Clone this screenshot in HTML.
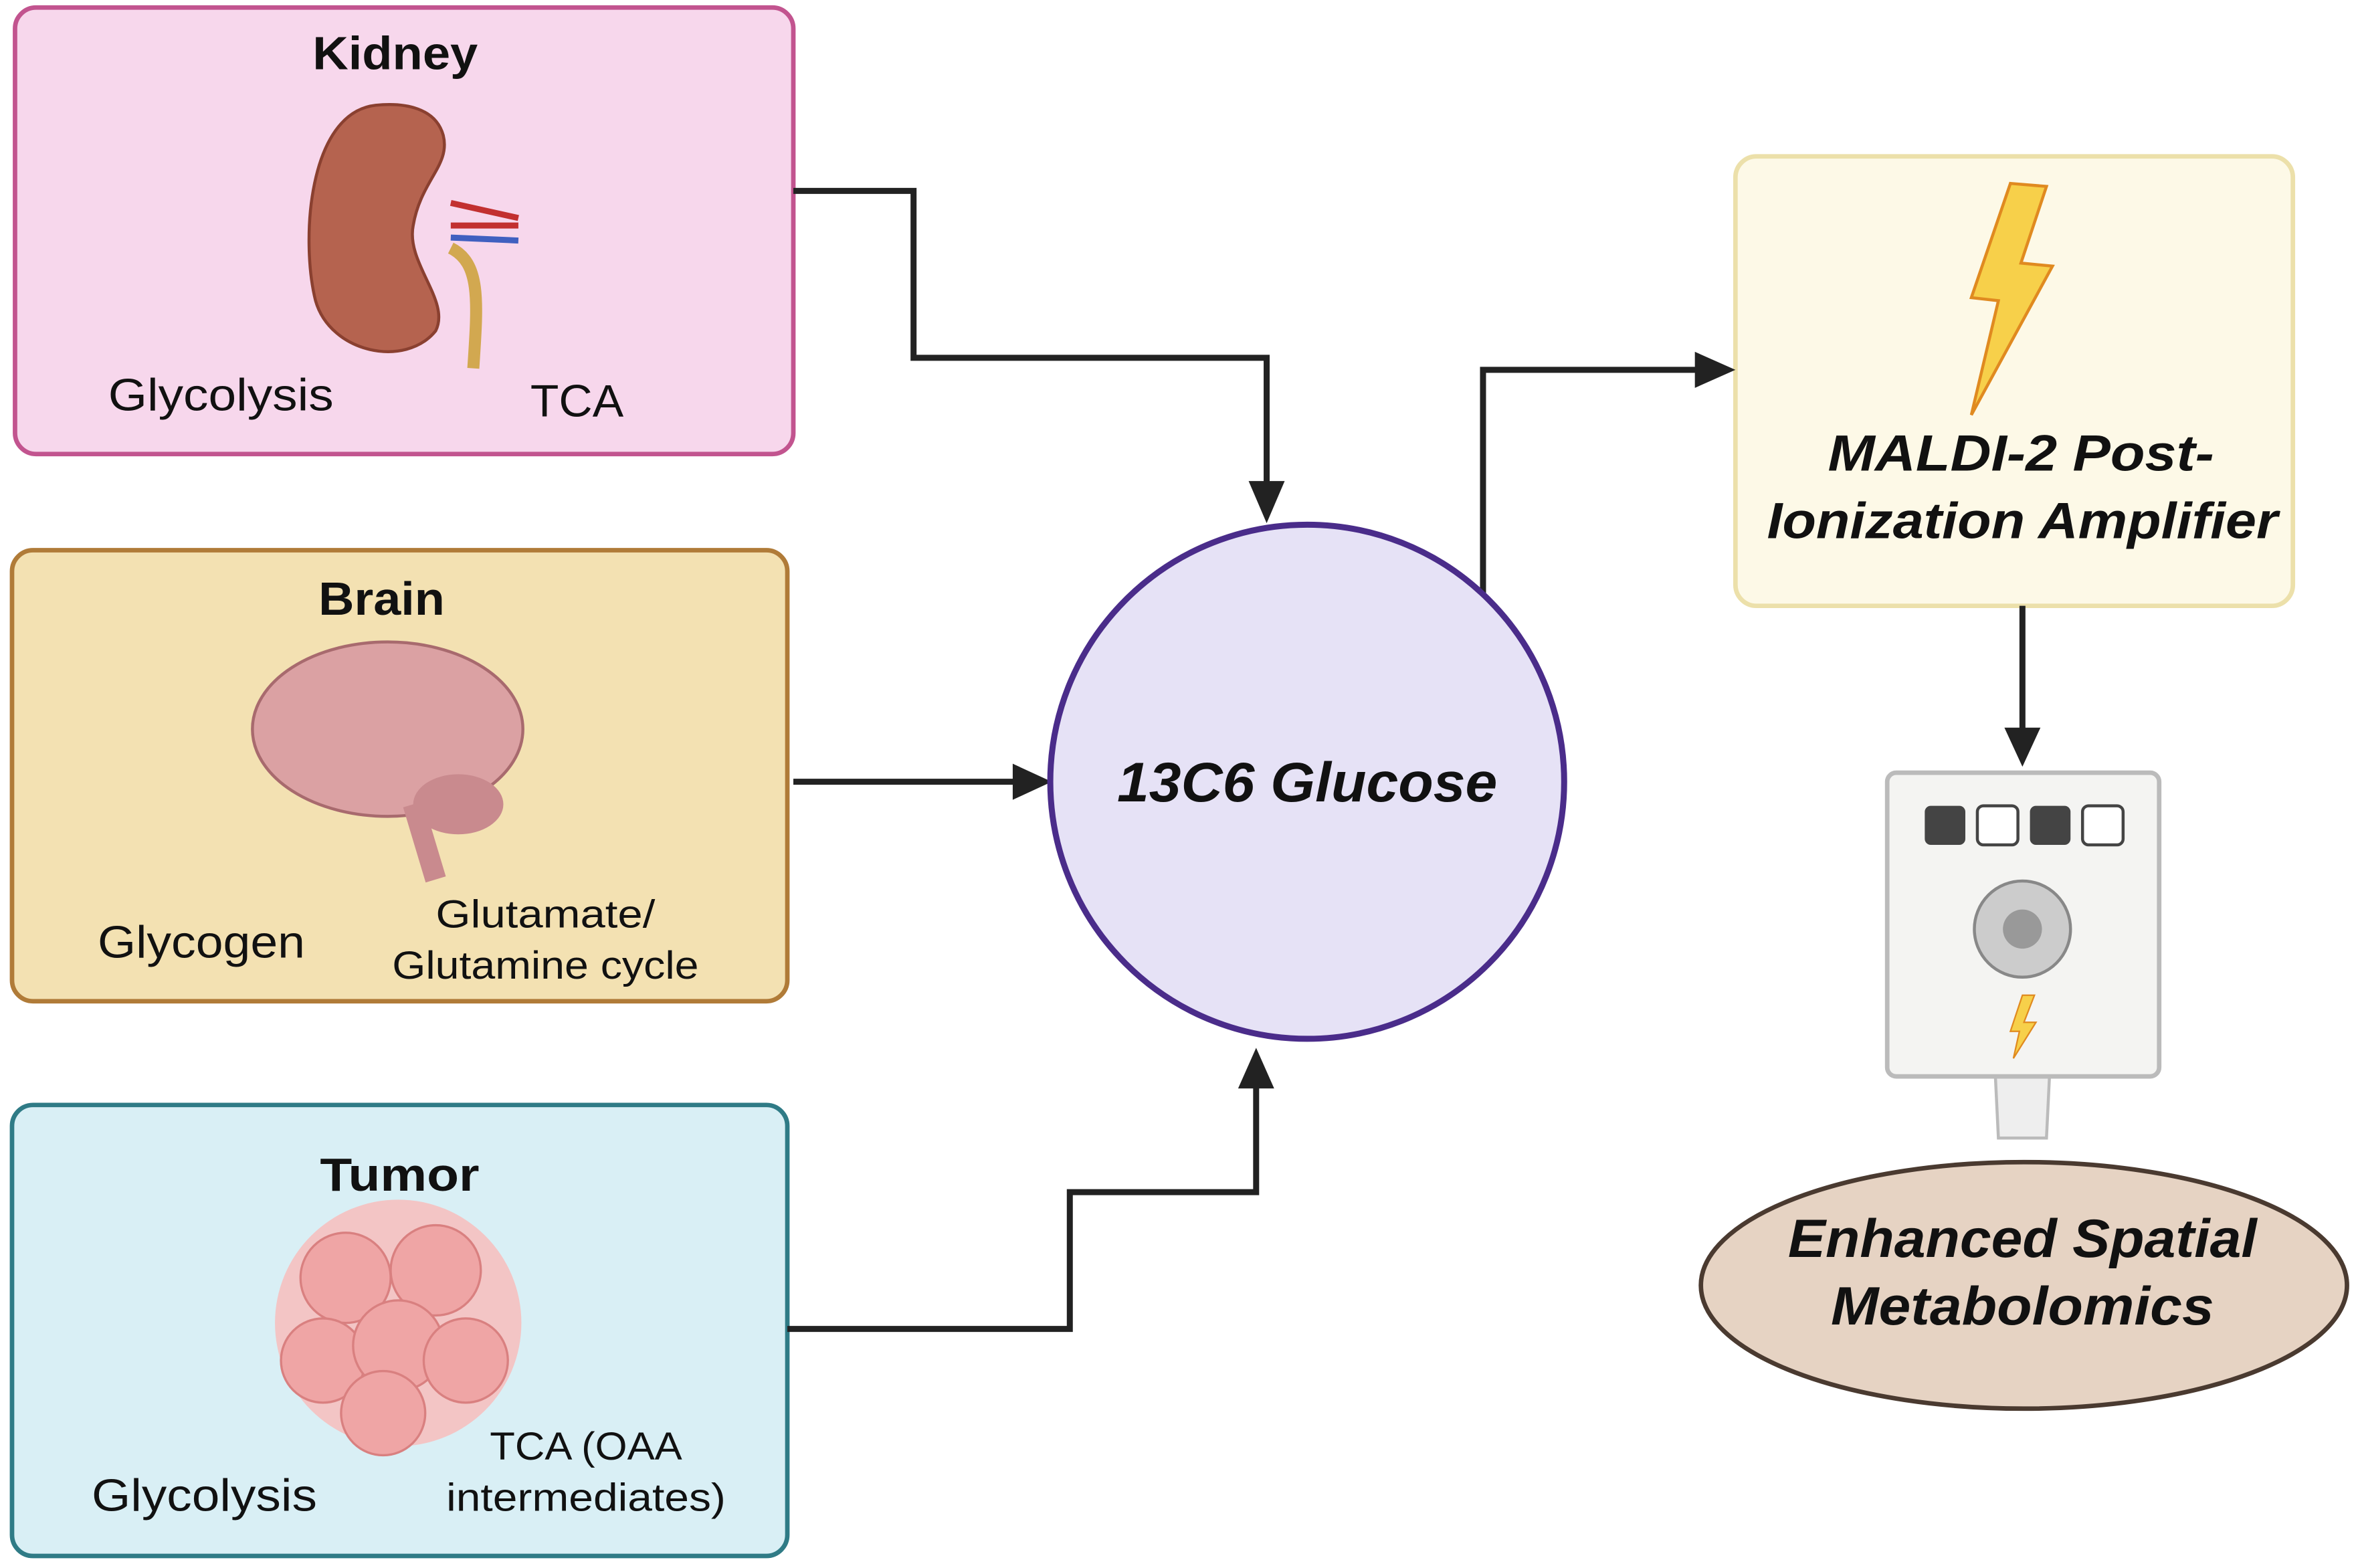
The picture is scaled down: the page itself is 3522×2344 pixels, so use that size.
<!DOCTYPE html>
<html><head><meta charset="utf-8"><style>
html,body{margin:0;padding:0;background:#fff;}
svg{display:block;}
text{font-family:"Liberation Sans",sans-serif;}
</style></head><body>
<svg width="3522" height="2344" viewBox="0 0 1568 1043" preserveAspectRatio="none" xmlns="http://www.w3.org/2000/svg">
<!-- Boxes -->
<rect x="10" y="5" width="518" height="297" rx="14" fill="#f7d7ec" stroke="#c2548f" stroke-width="3"/>
<rect x="8" y="366" width="516" height="300" rx="14" fill="#f3e1b2" stroke="#b07b38" stroke-width="3"/>
<rect x="8" y="735" width="516" height="300" rx="14" fill="#d9eff5" stroke="#2f7b86" stroke-width="3"/>
<rect x="1155" y="104" width="371" height="299" rx="14" fill="#fdf9e7" stroke="#ece0aa" stroke-width="3"/>

<!-- Connectors -->
<g fill="none" stroke="#222" stroke-width="4">
<polyline points="528,127 608,127 608,238 843,238 843,322"/>
<polyline points="528,520 676,520"/>
<polyline points="524,884 712,884 712,793 836,793 836,722"/>
<polyline points="987,395 987,246 1130,246"/>
<polyline points="1346,403 1346,486"/>
</g>
<g fill="#222">
<polygon points="831,320 855,320 843,348"/>
<polygon points="674,508 674,532 700,520"/>
<polygon points="824,724 848,724 836,697"/>
<polygon points="1128,234 1128,258 1155,246"/>
<polygon points="1334,484 1358,484 1346,510"/>
</g>

<!-- Circle -->
<circle cx="870" cy="520" r="171" fill="#e6e2f6" stroke="#4a2c8a" stroke-width="4"/>
<text x="870" y="533" text-anchor="middle" font-size="37" font-weight="bold" font-style="italic" fill="#111" textLength="253" lengthAdjust="spacingAndGlyphs">13C6 Glucose</text>

<!-- Kidney -->
<text x="263" y="46" text-anchor="middle" font-size="31" font-weight="bold" fill="#111" textLength="110" lengthAdjust="spacingAndGlyphs">Kidney</text>
<path d="M250,70 C205,75 200,160 210,200 C220,235 270,245 290,220 C300,200 270,175 275,150 C280,120 300,110 295,90 C290,72 270,68 250,70 Z" fill="#b5634f" stroke="#8a4030" stroke-width="2"/>
<path d="M300,135 L345,145 M300,150 L345,150" stroke="#c23030" stroke-width="4"/>
<path d="M300,158 L345,160" stroke="#4060c0" stroke-width="4"/>
<path d="M300,165 C320,175 318,200 315,245" stroke="#d2a850" stroke-width="8" fill="none"/>
<text x="147" y="273" text-anchor="middle" font-size="30" fill="#111" textLength="150" lengthAdjust="spacingAndGlyphs">Glycolysis</text>
<text x="384" y="277" text-anchor="middle" font-size="30" fill="#111" textLength="62" lengthAdjust="spacingAndGlyphs">TCA</text>

<!-- Brain -->
<text x="254" y="409" text-anchor="middle" font-size="31" font-weight="bold" fill="#111" textLength="84" lengthAdjust="spacingAndGlyphs">Brain</text>
<ellipse cx="258" cy="485" rx="90" ry="58" fill="#dba1a3" stroke="#a86a6e" stroke-width="2"/>
<ellipse cx="305" cy="535" rx="30" ry="20" fill="#c98a8e"/>
<path d="M275,535 L290,585" stroke="#c98a8e" stroke-width="14"/>
<text x="134" y="637" text-anchor="middle" font-size="30" fill="#111" textLength="138" lengthAdjust="spacingAndGlyphs">Glycogen</text>
<text x="363" y="617" text-anchor="middle" font-size="26" fill="#111" textLength="146" lengthAdjust="spacingAndGlyphs">Glutamate/</text>
<text x="363" y="651" text-anchor="middle" font-size="26" fill="#111" textLength="204" lengthAdjust="spacingAndGlyphs">Glutamine cycle</text>

<!-- Tumor -->
<text x="266" y="792" text-anchor="middle" font-size="31" font-weight="bold" fill="#111" textLength="106" lengthAdjust="spacingAndGlyphs">Tumor</text>
<g fill="#efa5a5" stroke="#d98080" stroke-width="1.5">
<circle cx="265" cy="880" r="82" fill="#f3c5c5" stroke="none"/>
<circle cx="230" cy="850" r="30"/><circle cx="290" cy="845" r="30"/>
<circle cx="215" cy="905" r="28"/><circle cx="265" cy="895" r="30"/>
<circle cx="310" cy="905" r="28"/><circle cx="255" cy="940" r="28"/>
</g>
<text x="136" y="1005" text-anchor="middle" font-size="30" fill="#111" textLength="150" lengthAdjust="spacingAndGlyphs">Glycolysis</text>
<text x="390" y="971" text-anchor="middle" font-size="26" fill="#111" textLength="128" lengthAdjust="spacingAndGlyphs">TCA (OAA</text>
<text x="390" y="1005" text-anchor="middle" font-size="26" fill="#111" textLength="186" lengthAdjust="spacingAndGlyphs">intermediates)</text>

<!-- MALDI -->
<polygon points="1338,122 1362,124 1345,175 1366,177 1312,276 1330,200 1312,198" fill="#f7d04a" stroke="#e08a20" stroke-width="2"/>
<text x="1345" y="313" text-anchor="middle" font-size="34" font-weight="bold" font-style="italic" fill="#111" textLength="257" lengthAdjust="spacingAndGlyphs">MALDI-2 Post-</text>
<text x="1346" y="358" text-anchor="middle" font-size="34" font-weight="bold" font-style="italic" fill="#111" textLength="340" lengthAdjust="spacingAndGlyphs">Ionization Amplifier</text>

<!-- Device -->
<polygon points="1328,716 1364,716 1362,757 1330,757" fill="#eee" stroke="#bbb" stroke-width="2"/>
<rect x="1256" y="514" width="181" height="202" rx="6" fill="#f4f4f2" stroke="#bbb" stroke-width="3"/>
<rect x="1281" y="536" width="27" height="26" rx="4" fill="#444"/>
<rect x="1316" y="536" width="27" height="26" rx="4" fill="#fff" stroke="#444" stroke-width="2"/>
<rect x="1351" y="536" width="27" height="26" rx="4" fill="#444"/>
<rect x="1386" y="536" width="27" height="26" rx="4" fill="#fff" stroke="#444" stroke-width="2"/>
<circle cx="1346" cy="618" r="32" fill="#ccc" stroke="#888" stroke-width="2"/>
<circle cx="1346" cy="618" r="13" fill="#999"/>
<polygon points="1346,662 1354,662 1347,680 1355,680 1340,704 1344,686 1338,686" fill="#f7d04a" stroke="#e08a20" stroke-width="1"/>

<!-- Ellipse -->
<ellipse cx="1347" cy="855" rx="215" ry="82" fill="#e6d3c3" stroke="#4a3a30" stroke-width="3"/>
<text x="1346" y="836" text-anchor="middle" font-size="36" font-weight="bold" font-style="italic" fill="#111" textLength="312" lengthAdjust="spacingAndGlyphs">Enhanced Spatial</text>
<text x="1346" y="881" text-anchor="middle" font-size="36" font-weight="bold" font-style="italic" fill="#111" textLength="255" lengthAdjust="spacingAndGlyphs">Metabolomics</text>
</svg>
</body></html>
